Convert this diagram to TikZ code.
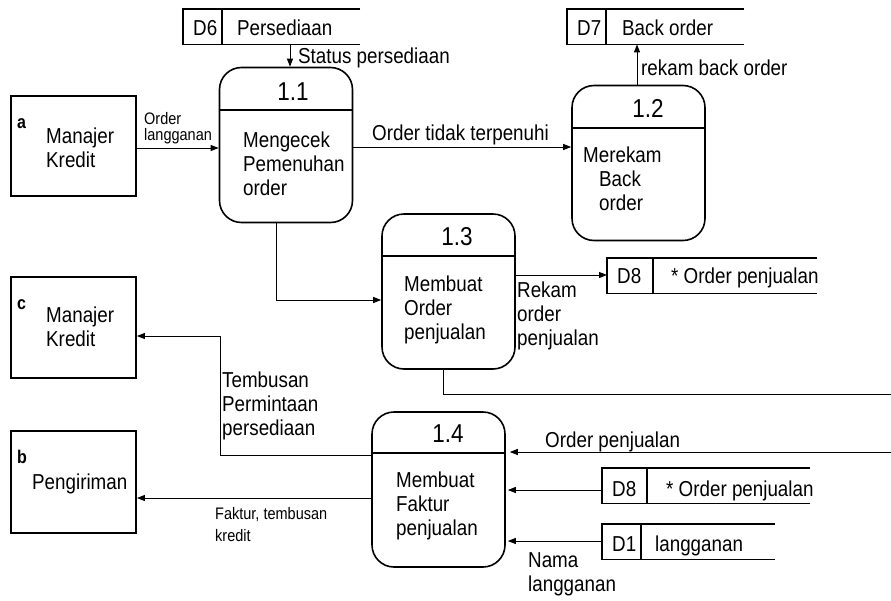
\documentclass[tikz,border=0pt]{standalone}
\usepackage{graphicx}
\usepackage{fontspec}
\setmainfont{Liberation Sans}
\usetikzlibrary{arrows.meta}
% left-aligned multi-line text, slightly tall lettering, baseline on the first line
\newcommand\stack[1]{\scalebox{1}[1.15]{\begin{tabular}[t]{@{}l@{}}#1\end{tabular}}}
\begin{document}
\begin{tikzpicture}[x=1pt,y=-1pt,
  txt/.style={font=\fontsize{18.8}{21}\selectfont, inner sep=0pt, anchor=base west},
  smalltxt/.style={font=\fontsize{14.5}{13.5}\selectfont, inner sep=0pt, anchor=base west},
  numtxt/.style={font=\fontsize{22.5}{24}\selectfont, inner sep=0pt, anchor=base},
  tagtxt/.style={font=\bfseries\fontsize{16}{18}\selectfont, inner sep=0pt, anchor=base west},
  entity/.style={draw, line width=1.8pt, minimum width=125pt, minimum height=#1, inner sep=0pt},
  process/.style={draw, line width=1.6pt, rounded corners=22pt, minimum width=133pt, minimum height=155pt, inner sep=0pt},
  store/.style={inner sep=0pt, minimum width=#1, minimum height=35pt, anchor=north west},
  storeline/.style={line width=1.2pt},
  divider/.style={line width=1.4pt},
  flow/.style={line width=1pt, -{Triangle[length=8pt,width=6pt]}},
  plain/.style={line width=1pt},
]
\fill[white] (0,0) rectangle (891,600);
\useasboundingbox (0,0) rectangle (891,600);

% ---------- external entities ----------
\node[entity=100pt] (a) at (73.5,146) {};
\node[tagtxt] (aTag) at (17,128) {\stack{a}};
\node[txt] (aName) at (46,143) {\stack{Manajer\\Kredit}};

\node[entity=101pt] (c) at (73.5,327.5) {};
\node[tagtxt] (cTag) at (17,309) {\stack{c}};
\node[txt] (cName) at (46,322) {\stack{Manajer\\Kredit}};

\node[entity=102pt] (b) at (73.5,482) {};
\node[tagtxt] (bTag) at (17,463) {\stack{b}};
\node[txt] (bName) at (32,489) {\stack{Pengiriman}};

% ---------- processes ----------
\node[process] (p11) at (286,145) {};
\draw[divider] (p11.west |- 0,110) -- (p11.east |- 0,110);
\node[numtxt] (p11n) at (293,100) {\scalebox{1}[1.15]{1.1}};
\node[txt] (p11t) at (243,147) {\stack{Mengecek\\Pemenuhan\\order}};

\node[process] (p12) at (638.5,163) {};
\draw[divider] (p12.west |- 0,128) -- (p12.east |- 0,128);
\node[numtxt] (p12n) at (648,117) {\scalebox{1}[1.15]{1.2}};
\node[txt] (p12t) at (583,162) {\stack{Merekam\\\hspace*{16pt}Back\\\hspace*{16pt}order}};

\node[process] (p13) at (448.5,291.5) {};
\draw[divider] (p13.west |- 0,256) -- (p13.east |- 0,256);
\node[numtxt] (p13n) at (457,245) {\scalebox{1}[1.15]{1.3}};
\node[txt] (p13t) at (404,291) {\stack{Membuat\\Order\\penjualan}};

\node[process] (p14) at (438.5,489.5) {};
\draw[divider] (p14.west |- 0,453) -- (p14.east |- 0,453);
\node[numtxt] (p14n) at (448,442) {\scalebox{1}[1.15]{1.4}};
\node[txt] (p14t) at (396,487) {\stack{Membuat\\Faktur\\penjualan}};

% ---------- data stores ----------
\node[store=177pt] (d6) at (183,9) {};
\draw[storeline] (d6.north east) -- (d6.north west) -- (d6.south west) -- (d6.south east);
\draw[storeline] ([xshift=39pt]d6.north west) -- ([xshift=39pt]d6.south west);
\node[txt] (d6id) at (193,35) {\stack{D6}};
\node[txt] (d6nm) at (237,35) {\stack{Persediaan}};

\node[store=177pt] (d7) at (567,9) {};
\draw[storeline] (d7.north east) -- (d7.north west) -- (d7.south west) -- (d7.south east);
\draw[storeline] ([xshift=39pt]d7.north west) -- ([xshift=39pt]d7.south west);
\node[txt] (d7id) at (577,35) {\stack{D7}};
\node[txt] (d7nm) at (622,35) {\stack{Back order}};

\node[store=210pt] (d8a) at (607,258) {};
\draw[storeline] (d8a.north east) -- (d8a.north west) -- (d8a.south west) -- (d8a.south east);
\draw[storeline] ([xshift=46pt]d8a.north west) -- ([xshift=46pt]d8a.south west);
\node[txt] (d8aid) at (617,283) {\stack{D8}};
\node[txt] (d8anm) at (671,283) {\stack{* Order penjualan}};

\node[store=208pt] (d8b) at (602,468) {};
\draw[storeline] (d8b.north east) -- (d8b.north west) -- (d8b.south west) -- (d8b.south east);
\draw[storeline] ([xshift=45pt]d8b.north west) -- ([xshift=45pt]d8b.south west);
\node[txt] (d8bid) at (612,496) {\stack{D8}};
\node[txt] (d8bnm) at (666,496) {\stack{* Order penjualan}};

\node[store=173pt] (d1) at (602,524) {};
\draw[storeline] (d1.north east) -- (d1.north west) -- (d1.south west) -- (d1.south east);
\draw[storeline] ([xshift=39pt]d1.north west) -- ([xshift=39pt]d1.south west);
\node[txt] (d1id) at (612,551) {\stack{D1}};
\node[txt] (d1nm) at (655,551) {\stack{langganan}};

% ---------- data flows ----------
\draw[flow] (d6.south -| 290,0) -- (p11.north -| 290,0);
\node[txt] (lStatus) at (298,63) {\stack{Status persediaan}};

\draw[flow] (a.east |- 0,148) -- (p11.west |- 0,148);
\node[smalltxt] (lOrdLg) at (144,124) {\stack{Order\\langganan}};

\draw[flow] (p11.east |- 0,147) -- (p12.west |- 0,147);
\node[txt] (lTidak) at (372,140) {\stack{Order tidak terpenuhi}};

\draw[flow] (p12.north -| 637,0) -- (d7.south -| 637,0);
\node[txt] (lBack) at (641,75) {\stack{rekam back order}};

\draw[flow] (p11.south -| 276,0) |- (p13.west |- 0,300);

\draw[flow] (p13.east |- 0,275) -- (d8a.west |- 0,275);
\node[txt] (lRekam) at (517,297) {\stack{Rekam\\order\\penjualan}};

\coordinate (edgeTop) at (891,394);
\coordinate (edgeBot) at (891,452);
\draw[plain] (p13.south -| 443,0) |- (edgeTop);
\draw[flow, shorten >=4pt] (edgeBot) -- (p14.east |- edgeBot);
\node[txt] (lOrdPj) at (545,447) {\stack{Order penjualan}};

\draw[flow, shorten >=2pt] (d8b.west |- 0,490) -- (p14.east |- 0,490);
\draw[flow, shorten >=2pt] (d1.west |- 0,541) -- (p14.east |- 0,541);
\node[txt] (lNama) at (528,567) {\stack{Nama\\langganan}};

\draw[flow] (p14.west |- 0,455) -| (220,336) -- (c.east |- 0,336);
\node[txt] (lTemb) at (222,387) {\stack{Tembusan\\Permintaan\\persediaan}};

\draw[flow] (p14.west |- 0,498) -- (b.east |- 0,498);
\node[smalltxt] (lFaktur) at (215,519) {\stack{Faktur, tembusan\\[4.8pt]kredit}};
\end{tikzpicture}
\end{document}
